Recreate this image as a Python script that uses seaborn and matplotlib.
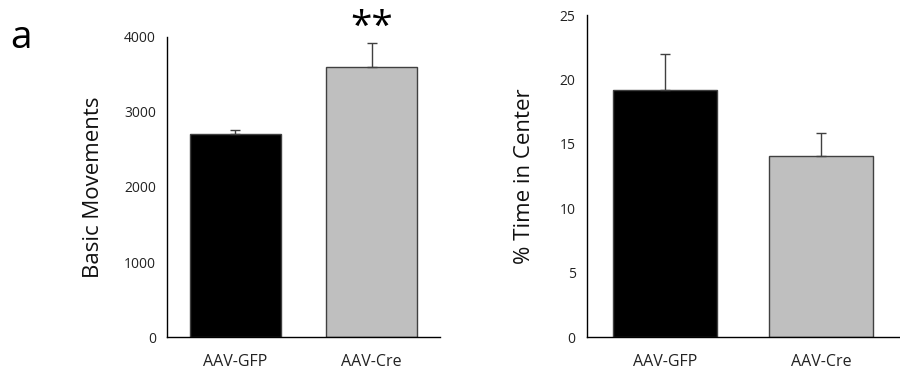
import matplotlib
matplotlib.use("Agg")
import matplotlib.pyplot as plt
import seaborn as sns
import pandas as pd

sns.set_style("white")
plt.rcParams['font.family'] = ['Open Sans', 'DejaVu Sans']

groups = ["AAV-GFP", "AAV-Cre"]
colors = ["#000000", "#bfbfbf"]
movements = [2705, 3597]
movements_err = [60, 325]
center_time = [19.15, 14.05]
center_err = [2.85, 1.8]

fig = plt.figure(figsize=(9, 3.79), dpi=100)
ax1 = fig.add_axes([0.1856, 0.1108, 0.3033, 0.7916])
ax2 = fig.add_axes([0.652, 0.1108, 0.347, 0.8496])

def panel(ax, vals, errs, ylim, yticks, ylabel, labelpad):
    df = pd.DataFrame({"group": groups, "value": vals})
    sns.barplot(data=df, x="group", y="value", hue="group", palette=colors,
                order=groups, hue_order=groups, legend=False, ax=ax,
                width=0.67, edgecolor="#404040", linewidth=1.0, errorbar=None)
    ax.errorbar(range(len(groups)), vals, yerr=[[0]*len(errs), errs], fmt="none",
                ecolor="#404040", elinewidth=1.0, capsize=3.5, capthick=1.0)
    ax.set_xlim(-0.5, 1.5)
    ax.set_ylim(*ylim)
    ax.set_yticks(yticks)
    ax.set_xlabel("")
    ax.set_ylabel(ylabel, fontsize=16, labelpad=labelpad, color="#111111")
    ax.tick_params(axis="y", length=0, labelsize=10, pad=8, labelcolor="#222222")
    ax.tick_params(axis="x", length=0, labelsize=11.5, pad=12, labelcolor="#222222")
    for s in ["top", "right"]:
        ax.spines[s].set_visible(False)
    for s in ["left", "bottom"]:
        ax.spines[s].set_color("black")
        ax.spines[s].set_linewidth(1.0)

panel(ax1, movements, movements_err, (0, 4000), [0, 1000, 2000, 3000, 4000], "Basic Movements", 14)
panel(ax2, center_time, center_err, (0, 25), [0, 5, 10, 15, 20, 25], "% Time in Center", 18)

fig.text(0.023, 0.90, "a", fontsize=28, ha="center", va="center", color="black")
ax1.text(1, 3990, "**", fontsize=28, ha="center", va="baseline", clip_on=False, color="black")

fig.savefig("out.png", dpi=100)
